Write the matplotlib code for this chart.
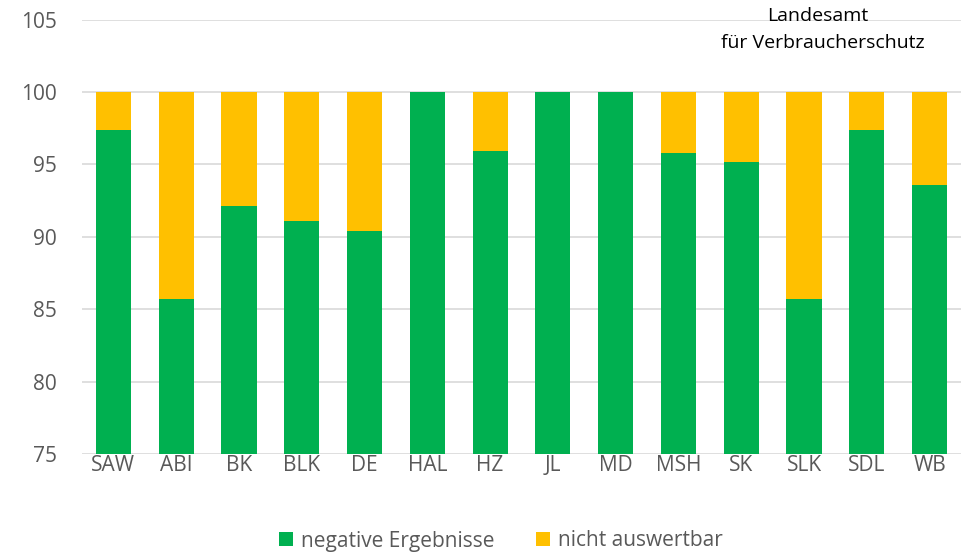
import numpy as np
import matplotlib.pyplot as plt

# Kreise / Landkreise
kreise = ['SAW', 'ABI', 'BK', 'BLK', 'DE', 'HAL', 'HZ', 'JL', 'MD', 'MSH', 'SK', 'SLK', 'SDL', 'WB']
negativ = [97.4, 85.7, 92.1, 91.1, 90.4, 100, 95.9, 100, 100, 95.8, 95.15, 85.7, 97.4, 93.55]
nicht_auswertbar = [100 - v for v in negativ]

plt.rcParams['font.family'] = ['Open Sans', 'DejaVu Sans']

fig = plt.figure(figsize=(9.63, 5.54), dpi=100)
ax = fig.add_axes([82 / 963, 100 / 554, 879 / 963, 434.5 / 554])

x = np.arange(len(kreise))
ax.bar(x, negativ, width=0.56, color='#00B050', label='negative Ergebnisse', zorder=2)
ax.bar(x, nicht_auswertbar, width=0.56, bottom=negativ, color='#FFC000',
       label='nicht auswertbar', zorder=2)

ax.set_ylim(75, 105)
ax.set_xlim(-0.5, len(kreise) - 0.5)
ax.set_yticks(np.arange(75, 106, 5))
ax.set_xticks(x)
ax.set_xticklabels(kreise)
ax.grid(axis='y', color='#D9D9D9', linewidth=1.2, zorder=0)
for s in ['top', 'right', 'left', 'bottom']:
    ax.spines[s].set_visible(False)
ax.tick_params(axis='both', length=0, labelsize=15, colors='#595959')
ax.tick_params(axis='x', pad=1)
ax.tick_params(axis='y', pad=18)

fig.legend(loc='center', bbox_to_anchor=(501 / 963, 1 - 541 / 554), ncol=2, frameon=False,
           fontsize=15, labelcolor='#595959', handlelength=0.65, handleheight=0.65,
           handletextpad=0.4, columnspacing=2.0)

fig.text(818 / 963, 1 - 16 / 554, 'Landesamt', ha='center', va='center', fontsize=14, color='black')
fig.text(823 / 963, 1 - 43 / 554, 'für Verbraucherschutz', ha='center', va='center', fontsize=14,
         color='black')

fig.savefig('out.png', dpi=100)
